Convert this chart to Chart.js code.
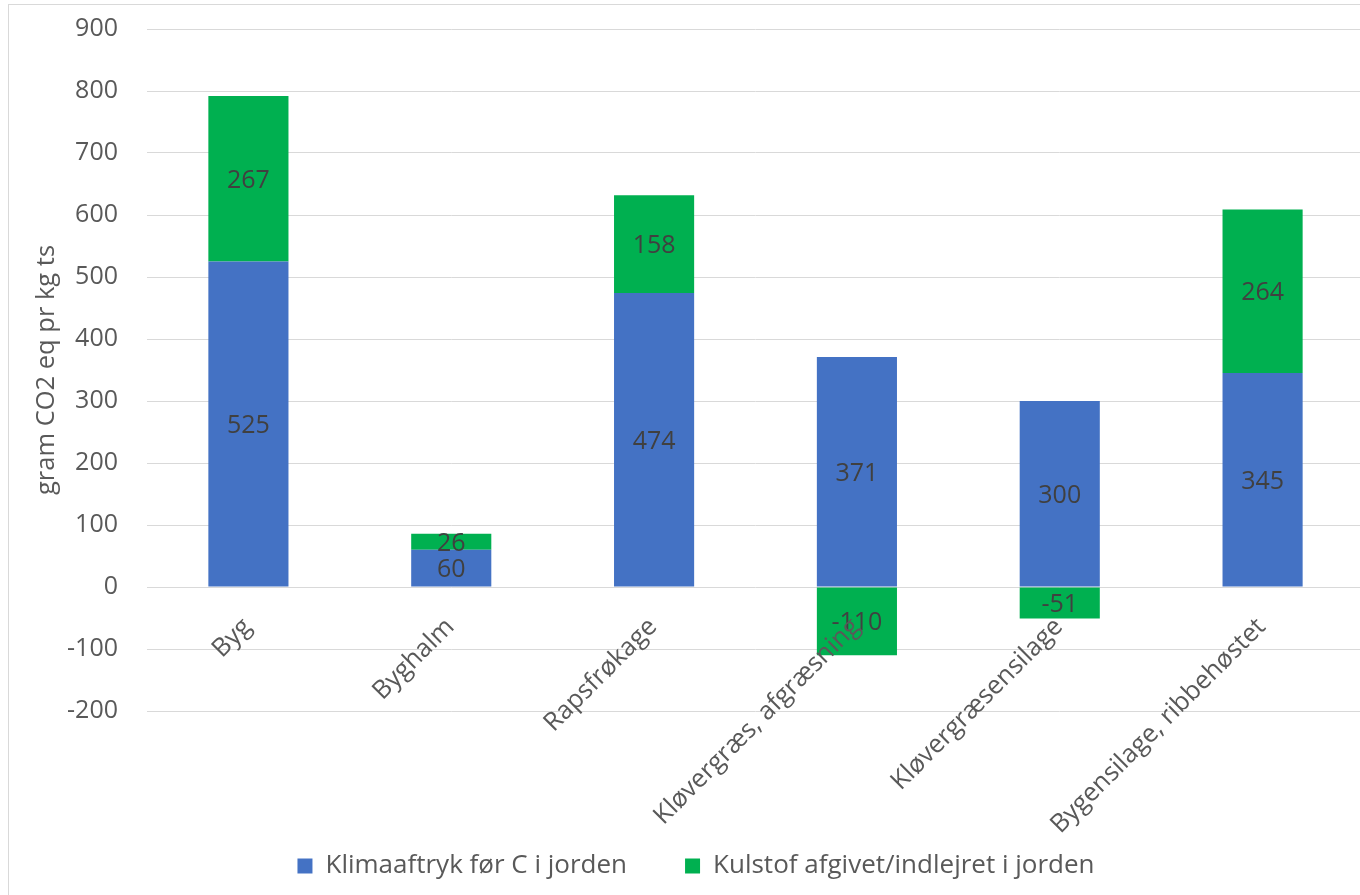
<!DOCTYPE html>
<html>
<head>
<meta charset="utf-8">
<script src="https://cdn.jsdelivr.net/npm/chart.js@4.4.1/dist/chart.umd.min.js"></script>
<style>
  html, body { margin: 0; padding: 0; background: #ffffff; overflow: hidden; width: 1360px; height: 895px; }
  #frame { position: absolute; left: 8px; top: 4px; width: 2000px; height: 2000px; border: 1px solid #d9d9d9; box-sizing: border-box; }
  #chart { position: absolute; left: 0; top: 0; }
</style>
</head>
<body>
<div id="frame"></div>
<canvas id="chart" width="1364" height="895"></canvas>
<script>
// Feed categories
const categories = [
  'Byg',
  'Byghalm',
  'Rapsfrøkage',
  'Kløvergræs, afgræsning',
  'Kløvergræsensilage',
  'Bygensilage, ribbehøstet'
];

// Climate footprint before soil carbon (g CO2 eq per kg DM)
const klimaaftryk = [525, 60, 474, 371, 300, 345];

// Carbon released (+) or stored (-) in the soil
const kulstof = [267, 26, 158, -110, -51, 264];

// Value axis ticks
const yTickValues = [-200, -100, 0, 100, 200, 300, 400, 500, 600, 700, 800, 900];

const FONT = 'Open Sans';
const TEXT_GREY = '#595959';

// Writes each segment's value in the middle of its bar
const segmentLabels = {
  id: 'segmentLabels',
  afterDatasetsDraw(chart) {
    const ctx = chart.ctx;
    ctx.save();
    ctx.font = '25px "' + FONT + '"';
    ctx.fillStyle = '#404040';
    ctx.textAlign = 'center';
    ctx.textBaseline = 'middle';
    chart.data.datasets.forEach((ds, di) => {
      const meta = chart.getDatasetMeta(di);
      meta.data.forEach((bar, i) => {
        const p = bar.getProps(['x', 'y', 'base'], true);
        ctx.fillText(String(ds.data[i]), p.x, (p.y + p.base) / 2 + 2);
      });
    });
    ctx.restore();
  }
};

new Chart(document.getElementById('chart'), {
  type: 'bar',
  data: {
    labels: categories,
    datasets: [
      {
        label: 'Klimaaftryk før C i jorden',
        data: klimaaftryk,
        backgroundColor: '#4472C4',
        barPercentage: 0.395,
        categoryPercentage: 1
      },
      {
        label: 'Kulstof afgivet/indlejret i jorden',
        data: kulstof,
        backgroundColor: '#00B050',
        barPercentage: 0.395,
        categoryPercentage: 1
      }
    ]
  },
  options: {
    responsive: false,
    animation: false,
    devicePixelRatio: 1,
    layout: { padding: { left: 28, right: 0, top: 29, bottom: 6 } },
    plugins: {
      tooltip: { enabled: false },
      legend: {
        position: 'bottom',
        title: { display: true, text: '', padding: { top: 69.6, bottom: 0 } },
        labels: {
          boxWidth: 15,
          boxHeight: 15,
          padding: 58,
          color: TEXT_GREY,
          font: { family: FONT, size: 26 }
        }
      }
    },
    scales: {
      x: {
        stacked: true,
        position: { y: 0 },
        grid: { display: false, drawTicks: false },
        border: { display: false },
        ticks: {
          z: 1,
          autoSkip: false,
          minRotation: 45,
          maxRotation: 45,
          padding: 25,
          labelOffset: -1,
          color: TEXT_GREY,
          font: { family: FONT, size: 25.5 }
        }
      },
      y: {
        stacked: true,
        min: -200,
        max: 900,
        afterBuildTicks: (scale) => { scale.ticks = yTickValues.map(v => ({ value: v })); },
        afterFit: (scale) => { scale.width = 119; },
        grid: { color: '#d9d9d9', lineWidth: 1, drawTicks: true, tickLength: 26, tickColor: 'rgba(0,0,0,0)' },
        border: { display: false },
        ticks: {
          padding: 3,
          color: TEXT_GREY,
          font: { family: FONT, size: 25 }
        },
        title: {
          display: true,
          text: 'gram CO2 eq pr kg ts',
          color: TEXT_GREY,
          font: { family: FONT, size: 25.5 },
          padding: { top: 3, bottom: 0 }
        }
      }
    }
  },
  plugins: [segmentLabels]
});
</script>
</body>
</html>
